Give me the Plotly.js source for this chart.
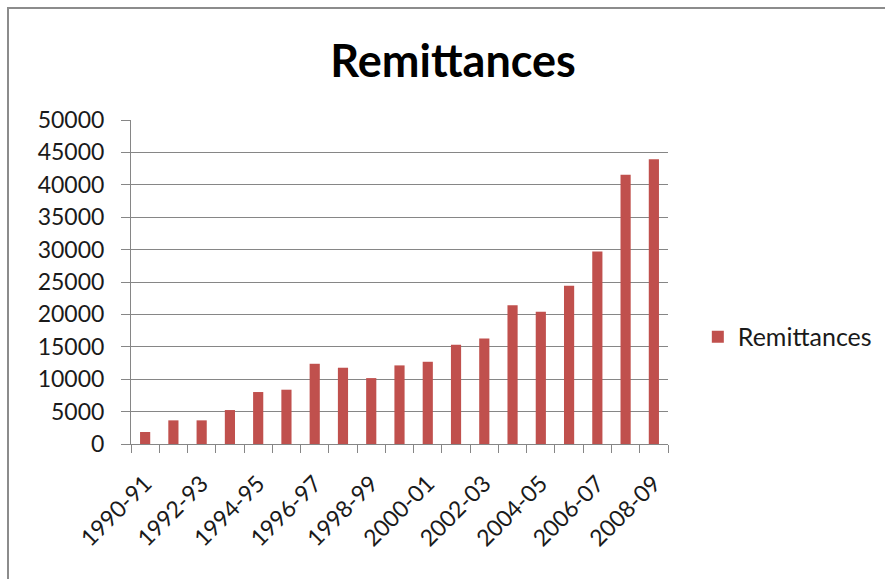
<!DOCTYPE html>
<html>
<head>
<meta charset="utf-8">
<script src="https://cdn.plot.ly/plotly-3.0.1.min.js"></script>
<style>
html,body{margin:0;padding:0;background:#fff;}
#wrap{position:relative;width:885px;height:579px;}
#chart{width:885px;height:579px;}
#frame{position:absolute;left:7px;top:7px;right:-5px;bottom:-5px;border-left:2px solid #8c8c8c;border-top:2px solid #8c8c8c;pointer-events:none;}
</style>
</head>
<body>
<div id="wrap"><div id="chart"></div><div id="frame"></div></div>
<script>
const categories = ["1990-91","1991-92","1992-93","1993-94","1994-95","1995-96","1996-97","1997-98","1998-99","1999-00","2000-01","2001-02","2002-03","2003-04","2004-05","2005-06","2006-07","2007-08","2008-09"];
const remittances = [1850,3650,3650,5240,8020,8380,12380,11770,10170,12130,12690,15310,16290,21430,20400,24410,29700,41570,43940];
const seriesName = "Remittances";
const yTickVals = [0,5000,10000,15000,20000,25000,30000,35000,40000,45000,50000];
const xTickText = categories.map((c,i)=> i % 2 === 0 ? c : "");

const font = "Lato, 'Open Sans', sans-serif";
const trace = {
  type: "bar",
  x: categories,
  y: remittances,
  name: seriesName,
  marker: {color: "#C0504D", line: {width: 0}},
  showlegend: true
};
const layout = {
  width: 885, height: 579,
  margin: {l: 131, r: 217, t: 120, b: 135},
  paper_bgcolor: "#ffffff",
  plot_bgcolor: "#ffffff",
  bargap: 0.64,
  showlegend: true,
  title: {text: "<b>Remittances</b>", font: {family: font, size: 45, color: "#000"}, x: 0.512, xanchor: "center", y: 0.895, yanchor: "middle"},
  xaxis: {
    type: "category",
    tickmode: "array",
    tickvals: categories,
    ticktext: xTickText,
    tickson: "boundaries",
    ticks: "outside", ticklen: 8, tickcolor: "#868686", tickwidth: 1,
    tickangle: -45,
    ticklabelstandoff: 16,
    tickfont: {family: font, size: 23, color: "#1a1a1a"},
    showline: true, linecolor: "#868686", linewidth: 1,
    showgrid: false, zeroline: false,
    fixedrange: true
  },
  yaxis: {
    range: [0, 50000],
    tickmode: "array",
    tickvals: yTickVals,
    tickformat: "d",
    ticks: "outside", ticklen: 9, tickcolor: "#868686", tickwidth: 1,
    ticklabelstandoff: 12,
    tickfont: {family: font, size: 23, color: "#1a1a1a"},
    showline: true, linecolor: "#868686", linewidth: 1,
    showgrid: true, gridcolor: "#868686", gridwidth: 1,
    zeroline: false,
    fixedrange: true
  },
  legend: {
    xref: "container", yref: "container",
    x: 0.7885, xanchor: "left", y: 0.418, yanchor: "middle",
    font: {family: font, size: 25, color: "#1a1a1a"},
    bgcolor: "rgba(0,0,0,0)", itemwidth: 30
  }
};
Plotly.newPlot("chart", [trace], layout, {displayModeBar: false, staticPlot: true});
</script>
</body>
</html>
